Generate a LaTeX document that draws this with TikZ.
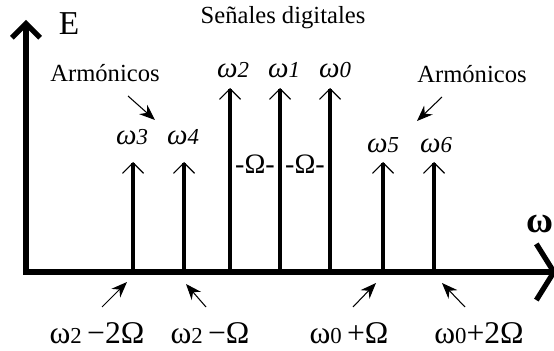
\documentclass[tikz,border=0pt]{standalone}
\usepackage{fontspec}
\setmainfont{Liberation Serif}
\usetikzlibrary{arrows.meta}

\newcommand{\wtop}[1]{ω{\fontsize{13}{15}\selectfont #1}}
\newcommand{\wbot}[1]{ω{\fontsize{13}{15}\selectfont #1}}

\begin{document}
\begin{tikzpicture}[x=0.02cm, y=-0.02cm,
    axis/.style={line width=3pt, line join=miter,
                 arrows={Straight Barb[length=8pt,width=16pt,line width=3pt]-Straight Barb[length=10pt,width=32pt,line width=3pt]}},
    spike/.style={line width=1.8pt, -{Straight Barb[length=6pt,width=12pt,line width=0.7pt]}},
    pointer/.style={line width=0.6pt, -{Stealth[length=9pt,width=7pt]}},
    wlab/.style={font=\fontsize{16.5}{19}\selectfont\itshape, inner sep=1pt},
    blab/.style={font=\fontsize{18}{21}\selectfont, inner sep=1pt},
    txt/.style={font=\fontsize{14}{17}\selectfont, inner sep=1pt},
    olab/.style={font=\fontsize{16}{19}\selectfont, inner sep=0pt}]
    \useasboundingbox (0,0) rectangle (554,351);

    % axes
    \coordinate (ytop) at (26,20);
    \coordinate (o)    at (26,272);
    \coordinate (xend) at (557,272);
    \draw[axis] (ytop) -- (o) -- (xend);
    \node[font=\fontsize{19}{22}\selectfont, inner sep=0pt] (E) at (69,24) {E};
    \node[font=\fontsize{21}{24}\selectfont\bfseries, inner sep=0pt] (waxis) at (540,224) {ω};
    \node[txt] (title) at (283,18) {Señales digitales};

    % spikes
    \coordinate (b3) at (133,272); \coordinate (t3) at (133,162);
    \coordinate (b4) at (184,272); \coordinate (t4) at (184,162);
    \coordinate (b2) at (230,272); \coordinate (t2) at (230,88);
    \coordinate (b1) at (280,272); \coordinate (t1) at (280,88);
    \coordinate (b0) at (330,272); \coordinate (t0) at (330,88);
    \coordinate (b5) at (383,272); \coordinate (t5) at (383,162);
    \coordinate (b6) at (434,272); \coordinate (t6) at (434,162);
    \draw[spike] (b3) -- (t3); \draw[spike] (b4) -- (t4);
    \draw[spike] (b2) -- (t2); \draw[spike] (b1) -- (t1);
    \draw[spike] (b0) -- (t0);
    \draw[spike] (b5) -- (t5); \draw[spike] (b6) -- (t6);

    \node[wlab] (w3) at (132,137) {\wtop{3}};
    \node[wlab] (w4) at (183,137) {\wtop{4}};
    \node[wlab] (w2) at (233,70)  {\wtop{2}};
    \node[wlab] (w1) at (284,70)  {\wtop{1}};
    \node[wlab] (w0) at (335,70)  {\wtop{0}};
    \node[wlab] (w5) at (383,145) {\wtop{5}};
    \node[wlab] (w6) at (436,145) {\wtop{6}};

    \node[olab] (om21) at (255,164) {-Ω-};
    \node[olab] (om10) at (305,164) {-Ω-};

    % harmonics
    \node[txt] (harmL) at (105,73) {Armónicos};
    \node[txt] (harmR) at (472,74) {Armónicos};
    \coordinate (hL1) at (128,96);  \coordinate (hL2) at (155,120);
    \coordinate (hR1) at (442,97);  \coordinate (hR2) at (417,121);
    \draw[pointer] (hL1) -- (hL2);
    \draw[pointer] (hR1) -- (hR2);

    % bottom labels
    \node[blab] (l3) at (97,333)  {\wbot{2}\,−2Ω};
    \node[blab] (l4) at (210,333) {\wbot{2}\,−Ω};
    \node[blab] (l5) at (349,333) {\wbot{0}\,+Ω};
    \node[blab] (l6) at (479,333) {\wbot{0}+2Ω};
    \coordinate (p3a) at (102,307); \coordinate (p3b) at (127,282);
    \coordinate (p4a) at (206,307); \coordinate (p4b) at (186,284);
    \coordinate (p5a) at (353,307); \coordinate (p5b) at (376,283);
    \coordinate (p6a) at (465,307); \coordinate (p6b) at (442,283);
    \draw[pointer] (p3a) -- (p3b); \draw[pointer] (p4a) -- (p4b);
    \draw[pointer] (p5a) -- (p5b); \draw[pointer] (p6a) -- (p6b);
\end{tikzpicture}
\end{document}
